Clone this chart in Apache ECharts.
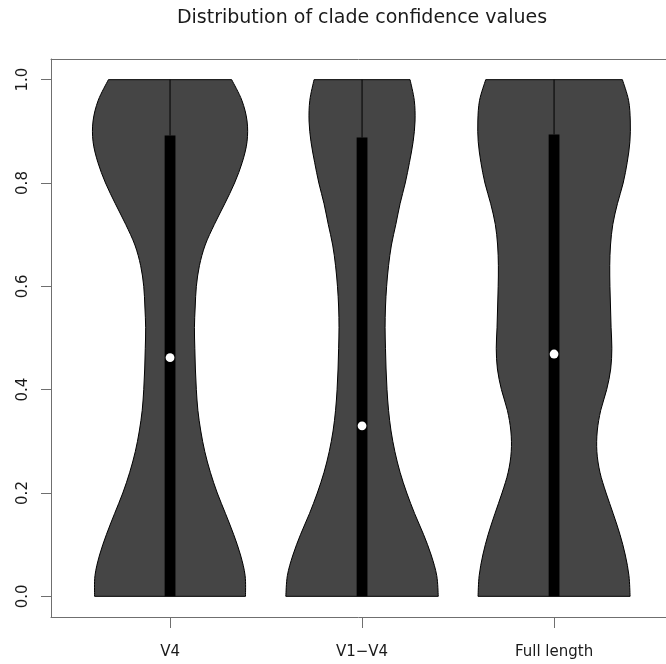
<!DOCTYPE html>
<html><head><meta charset="utf-8">
<script src="https://cdn.jsdelivr.net/npm/echarts@6/dist/echarts.min.js"></script>
<style>html,body{margin:0;padding:0;background:#fff}#chart{width:666px;height:664px}</style>
</head><body><div id="chart"></div>
<script>
// ---- data ----
const chartTitle = 'Distribution of clade confidence values';
const categories = ['V4', 'V1\u2212V4', 'Full length'];
const yTicks = [0, 0.2, 0.4, 0.6, 0.8, 1.0];
// y levels at which the violin half-widths (in x-axis units) were read
const densityLevels = [0, 0.04, 0.08, 0.12, 0.16, 0.20, 0.24, 0.28, 0.32, 0.36, 0.40, 0.44, 0.48,
  0.52, 0.56, 0.60, 0.64, 0.68, 0.72, 0.76, 0.80, 0.84, 0.88, 0.92, 0.96, 1.0];
const halfWidthV4 = [0.393, 0.391, 0.367, 0.331, 0.289, 0.246, 0.210, 0.181, 0.160, 0.145, 0.137, 0.132, 0.129,
  0.127, 0.131, 0.137, 0.153, 0.183, 0.231, 0.285, 0.336, 0.376, 0.401, 0.401, 0.374, 0.321];
const halfWidthV1V4 = [0.397, 0.389, 0.360, 0.320, 0.274, 0.233, 0.198, 0.171, 0.151, 0.138, 0.130, 0.125, 0.122,
  0.120, 0.122, 0.128, 0.138, 0.153, 0.176, 0.198, 0.225, 0.247, 0.266, 0.276, 0.272, 0.250];
const halfWidthFull = [0.396, 0.390, 0.371, 0.343, 0.308, 0.271, 0.239, 0.223, 0.225, 0.243, 0.274, 0.295, 0.301,
  0.297, 0.294, 0.291, 0.290, 0.294, 0.306, 0.330, 0.360, 0.381, 0.395, 0.397, 0.388, 0.356];
const mins = [0, 0, 0];
const q1s = [0, 0, 0];
const medians = [0.462, 0.330, 0.469];
const q3s = [0.892, 0.888, 0.894];
const maxs = [1, 1, 1];

// ---- styling ----
const FONT = 'DejaVu Sans';
const AXIS_GRAY = '#6f6f6f';
const VIOLIN_FILL = '#454545';
const BOX_HALF_PX = 5.4;
const MEDIAN_R = 4.4;
// visible x range (the plot box continues past the right edge of the picture)
const X_MIN = 0.38, X_MAX = 3.583;

const halfWidths = [halfWidthV4, halfWidthV1V4, halfWidthFull];

function splinePath(pts) {
  // Catmull-Rom through the points, written as cubic Bezier segments
  let d = '';
  const n = pts.length;
  for (let i = 0; i < n - 1; i++) {
    const p0 = pts[Math.max(0, i - 1)], p1 = pts[i], p2 = pts[i + 1], p3 = pts[Math.min(n - 1, i + 2)];
    const c1 = [p1[0] + (p2[0] - p0[0]) / 6, p1[1] + (p2[1] - p0[1]) / 6];
    const c2 = [p2[0] - (p3[0] - p1[0]) / 6, p2[1] - (p3[1] - p1[1]) / 6];
    d += ' C' + c1[0] + ' ' + c1[1] + ' ' + c2[0] + ' ' + c2[1] + ' ' + p2[0] + ' ' + p2[1];
  }
  return d;
}

function renderViolin(params, api) {
  const i = params.dataIndex;
  const x = api.value(0);
  const hw = halfWidths[i];
  const right = densityLevels.map((v, k) => api.coord([x + hw[k], v])).reverse();
  const left = densityLevels.map((v, k) => api.coord([x - hw[k], v]));
  const d = 'M' + right[0][0] + ' ' + right[0][1] + splinePath(right) +
    ' L' + left[0][0] + ' ' + left[0][1] + splinePath(left) + ' Z';
  const pMin = api.coord([x, mins[i]]);
  const pQ1 = api.coord([x, q1s[i]]);
  const pQ3 = api.coord([x, q3s[i]]);
  const pMax = api.coord([x, maxs[i]]);
  const pMed = api.coord([x, api.value(1)]);
  return {
    type: 'group',
    children: [
      { type: 'path', shape: { pathData: d }, style: { fill: VIOLIN_FILL, stroke: '#000', lineWidth: 1 } },
      { type: 'line', shape: { x1: pQ3[0], y1: pQ3[1], x2: pMax[0], y2: pMax[1] }, style: { stroke: '#000', lineWidth: 1 } },
      { type: 'line', shape: { x1: pQ1[0], y1: pQ1[1], x2: pMin[0], y2: pMin[1] }, style: { stroke: '#000', lineWidth: 1 } },
      { type: 'rect', shape: { x: pQ3[0] - BOX_HALF_PX, y: pQ3[1], width: BOX_HALF_PX * 2, height: pQ1[1] - pQ3[1] }, style: { fill: '#000' } },
      { type: 'circle', shape: { cx: pMed[0], cy: pMed[1], r: MEDIAN_R }, style: { fill: '#fff' } }
    ]
  };
}

const chart = echarts.init(document.getElementById('chart'), null, { renderer: 'canvas' });
chart.setOption({
  animation: false,
  backgroundColor: '#fff',
  title: {
    text: chartTitle,
    left: 357, top: 4, textAlign: 'center',
    textStyle: { fontFamily: FONT, fontSize: 19, fontWeight: 'normal', color: '#1a1a1a' }
  },
  grid: { left: 51, top: 59, right: 0, bottom: 47, show: false, containLabel: false },
  xAxis: [{
    type: 'value', min: X_MIN, max: X_MAX, position: 'bottom',
    axisLine: { show: true, onZero: false, lineStyle: { color: AXIS_GRAY, width: 1 } },
    splitLine: { show: false },
    axisTick: { show: true, customValues: [1, 2, 3], length: 11, lineStyle: { color: AXIS_GRAY } },
    axisLabel: {
      customValues: [1, 2, 3], margin: 28,
      formatter: v => categories[Math.round(v) - 1],
      fontFamily: FONT, fontSize: 15, color: '#1a1a1a'
    }
  }, {
    type: 'value', min: X_MIN, max: X_MAX, position: 'top',
    axisLine: { show: true, onZero: false, lineStyle: { color: AXIS_GRAY, width: 1 } },
    splitLine: { show: false }, axisTick: { show: false }, axisLabel: { show: false }
  }],
  yAxis: {
    type: 'value', min: -0.04, max: 1.04, position: 'left',
    axisLine: { show: true, onZero: false, lineStyle: { color: AXIS_GRAY, width: 1 } },
    splitLine: { show: false },
    axisTick: { show: true, customValues: yTicks, length: 10, lineStyle: { color: AXIS_GRAY } },
    axisLabel: {
      customValues: yTicks, margin: 20, rotate: 90,
      formatter: v => v.toFixed(1),
      fontFamily: FONT, fontSize: 15, color: '#1a1a1a'
    }
  },
  series: [{
    type: 'custom',
    coordinateSystem: 'cartesian2d',
    xAxisIndex: 0, yAxisIndex: 0,
    clip: false,
    renderItem: renderViolin,
    data: categories.map((c, i) => [i + 1, medians[i]])
  }]
});
</script></body></html>
